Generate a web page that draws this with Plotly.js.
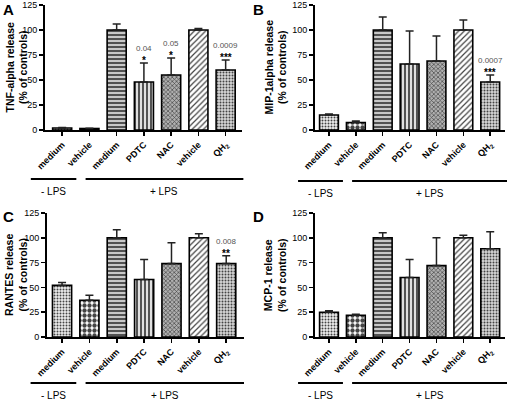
<!DOCTYPE html>
<html><head><meta charset="utf-8">
<script src="https://cdn.plot.ly/plotly-3.0.1.min.js"></script>
<style>html,body{margin:0;padding:0;background:#fff}#chart{width:507px;height:405px}</style>
</head><body><div id="chart"></div>
<script>
// ---- data ----
const categories = ['medium', 'vehicle', 'medium', 'PDTC', 'NAC', 'vehicle', 'QH<sub>2</sub>'];
const groupLabels = ['- LPS', '+ LPS'];
const tnfMean = [2, 1.5, 100, 48, 55, 100, 60];
const tnfErr = [0.5, 0.3, 6, 19, 17, 1.5, 10];
const mipMean = [15, 7.5, 100, 66, 69, 100, 48];
const mipErr = [1, 1.5, 13, 33, 25, 10, 7];
const rantesMean = [52, 37, 100, 58, 74, 100, 74];
const rantesErr = [3, 5, 8, 20, 21, 4, 8];
const mcpMean = [25, 22, 100, 60, 72, 100, 89];
const mcpErr = [1.5, 1, 5, 18, 28, 2.5, 17];
const yTicks = [0, 25, 50, 75, 100, 125];
// significance: [category index, p-value text, stars]
const tnfSig = [[3, '0.04', '*'], [4, '0.05', '*'], [6, '0.0009', '***']];
const mipSig = [[6, '0.0007', '***']];
const rantesSig = [[6, '0.008', '**']];
const mcpSig = [];

// ---- styling ----
const W = 507, H = 405;
const FONT = 'Liberation Sans, Arial, sans-serif';
const patShape = ['.', '.', '-', '|', 'x', '/', '.'];
const patFg = ['#a8a8a8', '#000000', '#000000', '#000000', '#5a5a5a', '#606060', '#959595'];
const patBg = ['#eeeeee', '#ffffff', '#c8c8c8', '#e0e0e0', '#b0b0b0', '#ffffff', '#d8d8d8'];
const patSize = [3, 5, 4, 4, 3, 4, 3];
const patSol = [0.35, 0.6, 0.45, 0.45, 0.4, 0.3, 0.35];

const panels = [
  {letter: 'A', title: 'TNF-alpha release', mean: tnfMean, err: tnfErr, sig: tnfSig,
   px: [45, 242], py: [5, 130], range: [-0.63, 6.6], lx: 8, ly: 9, tx: 16, lineY: 179},
  {letter: 'B', title: 'MIP-1alpha release', mean: mipMean, err: mipErr, sig: mipSig,
   px: [315, 505], py: [5, 130], range: [-0.52, 6.55], lx: 258, ly: 9, tx: 275, lineY: 181},
  {letter: 'C', title: 'RANTES release', mean: rantesMean, err: rantesErr, sig: rantesSig,
   px: [47, 244], py: [213, 337], range: [-0.55, 6.65], lx: 8, ly: 216, tx: 16, lineY: 383},
  {letter: 'D', title: 'MCP-1 release', mean: mcpMean, err: mcpErr, sig: mcpSig,
   px: [315, 505], py: [213, 337], range: [-0.52, 6.55], lx: 258, ly: 216, tx: 275, lineY: 383}
];

const traces = [], layout = {
  width: W, height: H, margin: {l: 0, r: 0, t: 0, b: 0},
  paper_bgcolor: '#fff', plot_bgcolor: 'rgba(0,0,0,0)', showlegend: false,
  font: {family: FONT, color: '#000'},
  annotations: [], shapes: []
};

const xs = categories.map((_, i) => i);

panels.forEach((p, k) => {
  const sfx = k === 0 ? '' : String(k + 1);
  const xa = 'x' + sfx, ya = 'y' + sfx;
  const dom = [p.px[0] / W, p.px[1] / W];
  const ydom = [1 - p.py[1] / H, 1 - p.py[0] / H];
  traces.push({
    type: 'bar', x: xs, y: p.mean, xaxis: xa, yaxis: ya, width: 0.7,
    marker: {
      color: patBg,
      line: {color: '#000', width: 1.6},
      pattern: {shape: patShape, fgcolor: patFg, size: patSize, solidity: patSol, fillmode: 'overlay', fgopacity: 1}
    },
    error_y: {type: 'data', symmetric: false, array: p.err, arrayminus: p.err.map(() => 0),
      color: '#222', thickness: 1.5, width: 4},
    hoverinfo: 'skip'
  });
  layout['xaxis' + sfx] = {
    domain: dom, anchor: ya, range: p.range, showgrid: false, zeroline: false,
    showline: true, linecolor: '#000', linewidth: 2,
    tickmode: 'array', tickvals: xs, ticktext: categories.map(c => '<b>' + c + '</b>'),
    tickangle: -45, ticks: 'outside', ticklen: 4, tickwidth: 1.5, tickcolor: '#000',
    tickfont: {size: 9, family: FONT, color: '#000'}, fixedrange: true
  };
  layout['yaxis' + sfx] = {
    domain: ydom, anchor: xa, range: [0, 125], showgrid: false, zeroline: false,
    showline: true, linecolor: '#000', linewidth: 2,
    tickmode: 'array', tickvals: yTicks, ticks: 'outside', ticklen: 4, tickwidth: 1.5, tickcolor: '#000',
    tickfont: {size: 9, family: FONT, color: '#000'}, fixedrange: true
  };
  // panel letter
  layout.annotations.push({xref: 'paper', yref: 'paper', x: p.lx / W, y: 1 - p.ly / H,
    text: '<b>' + p.letter + '</b>', showarrow: false, xanchor: 'center', yanchor: 'middle',
    font: {size: 15, family: FONT, color: '#000'}});
  // y title
  layout.annotations.push({xref: 'paper', yref: 'paper', x: p.tx / W, y: (ydom[0] + ydom[1]) / 2,
    text: '<b>' + p.title + '</b><br><b>(% of controls)</b>', showarrow: false, textangle: -90,
    xanchor: 'center', yanchor: 'middle', font: {size: 10.5, family: FONT, color: '#000'}});
  // significance
  p.sig.forEach(([i, pv, st]) => {
    const top = p.mean[i] + p.err[i];
    layout.annotations.push({xref: xa, yref: ya, x: i, y: top, text: '<b>' + st + '</b>', showarrow: false,
      yanchor: 'bottom', yshift: -5, font: {size: 10, family: FONT, color: '#000'}});
    layout.annotations.push({xref: xa, yref: ya, x: i, y: top, text: pv, showarrow: false,
      yanchor: 'bottom', yshift: 8, font: {size: 8, family: FONT, color: '#555555'}});
  });
  // group lines below axis
  const toPaper = v => dom[0] + (v - p.range[0]) / (p.range[1] - p.range[0]) * (dom[1] - dom[0]);
  const groups = [[-1.15, 0.52], [0.86, 6.65]];
  groups.forEach((g, gi) => {
    const yl = 1 - p.lineY / H;
    layout.shapes.push({type: 'line', xref: 'paper', yref: 'paper', x0: toPaper(g[0]), x1: toPaper(g[1]),
      y0: yl, y1: yl, line: {color: '#000', width: 2}});
    layout.annotations.push({xref: 'paper', yref: 'paper', x: toPaper((g[0] + g[1]) / 2), y: 1 - (p.lineY + 12) / H,
      text: groupLabels[gi], showarrow: false, xanchor: 'center', yanchor: 'middle',
      font: {size: 10, family: FONT, color: '#000'}});
  });
});

Plotly.newPlot('chart', traces, layout, {displayModeBar: false, staticPlot: true});
</script></body></html>
